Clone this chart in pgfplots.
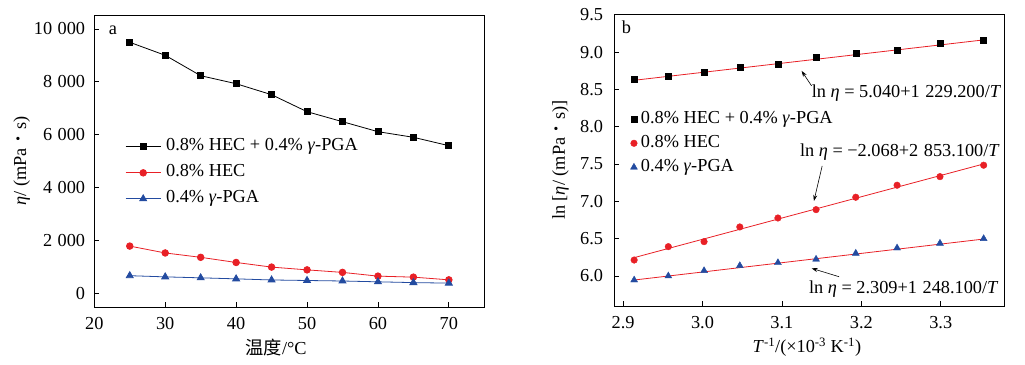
\documentclass[border=0pt]{standalone}
\usepackage{fontspec}
\setmainfont{Liberation Serif}
\newfontfamily\cjk{Noto Sans CJK SC}
\usepackage{pgfplots}
\pgfplotsset{compat=1.18}
\usetikzlibrary{arrows.meta}
\definecolor{myred}{RGB}{232,32,38}
\definecolor{myblue}{RGB}{35,75,160}
\newcommand{\mdot}{\raisebox{-0.05em}{\scalebox{1.5}{·}}}

\pgfplotsset{
  every axis/.append style={font=\fontsize{18.3}{21}\selectfont},
  myaxis/.style={
    scale only axis, width=390pt, height=292pt, anchor=south west,
    axis line style={line width=0.9pt},
    every tick/.style={line width=0.8pt, black},
    major tick length=5pt,
    xtick pos=left, ytick pos=left, tick align=inside,
    ticklabel style={inner sep=0pt},
    xticklabel style={yshift=-10pt},
    /pgf/number format/assume math mode=true,
    legend cell align=left,
  },
}

\begin{document}
\begin{tikzpicture}[font=\fontsize{18.3}{21}\selectfont]
\useasboundingbox (0,0) rectangle (1025pt,364pt);

% ---------- panel a ----------
\begin{axis}[myaxis,
  at={(94.3pt,57pt)},
  xmin=20, xmax=75, ymin=-520, ymax=10530,
  xtick={20,30,40,50,60,70},
  ytick={0,2000,4000,6000,8000,10000},
  scaled y ticks=false,
  yticklabel style={xshift=-9pt},
  /pgf/number format/1000 sep={\hspace{0.3em}},
  xlabel={{\cjk 温度}/°C},
  xlabel style={at={(axis description cs:0.466,-0.137)}, anchor=center},
  ylabel={\textit{η}/ (mPa \mdot{} s)},
  ylabel style={at={(axis description cs:-0.186,0.5)}, anchor=center},
  legend style={at={(axis description cs:0.079,0.580)}, anchor=north west,
    draw=none, fill=none, inner sep=0pt, row sep=8pt, column sep=5pt,
    nodes={inner sep=0pt, text height=13pt, text depth=5pt}},
  legend image code/.code={\draw[mark repeat=2,mark phase=2,#1] plot coordinates {(0pt,0pt)(17.5pt,0pt)(35pt,0pt)};},
]
\addplot[black, line width=0.8pt, mark=square*, mark size=3pt, mark options={solid}] coordinates {
(25,9497)(30,9005)(35,8233)(40,7930)(45,7514)(50,6871)(55,6493)(60,6115)(65,5902)(70,5585)};
\addlegendentry{0.8\% HEC + 0.4\% \textit{γ}-PGA}
\addplot[myred, line width=0.8pt, mark=*, mark size=3.3pt, mark options={solid}] coordinates {
(25,1785)(30,1525)(35,1360)(40,1165)(45,990)(50,885)(55,790)(60,648)(65,610)(70,508)};
\addlegendentry{0.8\% HEC}
\addplot[myblue, line width=0.8pt, mark=triangle*, mark size=4pt, mark options={solid}] coordinates {
(25,665)(30,620)(35,584)(40,545)(45,503)(50,483)(55,464)(60,433)(65,403)(70,384)};
\addlegendentry{0.4\% \textit{γ}-PGA}
\node at (rel axis cs:0.048,0.949) {a};
\end{axis}

% ---------- panel b ----------
\begin{axis}[myaxis,
  at={(614.3pt,58pt)},
  xmin=2.889, xmax=3.380, ymin=5.598, ymax=9.51,
  xtick={2.9,3.0,3.1,3.2,3.3},
  ytick={6.0,6.5,7.0,7.5,8.0,8.5,9.0,9.5},
  yticklabel style={xshift=-11pt},
  /pgf/number format/.cd, fixed, fixed zerofill, precision=1, /pgfplots/.cd,
  xlabel={\textit{T}\textsuperscript{-1}/(×10\textsuperscript{-3} K\textsuperscript{-1})},
  xlabel style={at={(axis description cs:0.494,-0.142)}, anchor=center},
  ylabel={ln [\textit{η}/ (mPa \mdot{} s)]},
  ylabel style={at={(axis description cs:-0.138,0.5)}, anchor=center},
  legend style={at={(axis description cs:0.041,0.671)}, anchor=north west,
    draw=none, fill=none, inner sep=0pt, row sep=6pt, column sep=3.5pt,
    nodes={inner sep=0pt, text height=13pt, text depth=5pt}},
  legend image code/.code={\draw[#1] plot coordinates {(0pt,0pt)};},
]
\addplot[only marks, black, mark=square*, mark size=3pt] coordinates {
(2.914,8.637)(2.957,8.681)(3.002,8.725)(3.047,8.792)(3.095,8.838)(3.143,8.932)(3.193,8.985)(3.245,9.025)(3.299,9.114)(3.354,9.164)};
\addlegendentry{0.8\% HEC + 0.4\% \textit{γ}-PGA}
\addplot[only marks, myred, mark=*, mark size=3.3pt] coordinates {
(2.914,6.214)(2.957,6.393)(3.002,6.460)(3.047,6.657)(3.095,6.777)(3.143,6.889)(3.193,7.055)(3.245,7.216)(3.299,7.331)(3.354,7.484)};
\addlegendentry{0.8\% HEC}
\addplot[only marks, myblue, mark=triangle*, mark size=4pt] coordinates {
(2.914,5.946)(2.957,6.000)(3.002,6.071)(3.047,6.138)(3.095,6.178)(3.143,6.224)(3.193,6.304)(3.245,6.375)(3.299,6.438)(3.354,6.500)};
\addlegendentry{0.4\% \textit{γ}-PGA}
\addplot[myred, line width=0.8pt, forget plot] coordinates {(2.914,8.622)(3.354,9.163)};
\addplot[myred, line width=0.8pt, forget plot] coordinates {(2.914,6.246)(3.354,7.501)};
\addplot[myred, line width=0.8pt, forget plot] coordinates {(2.914,5.946)(3.354,6.495)};
\node at (rel axis cs:0.031,0.954) {b};
\node[anchor=base west, inner sep=0pt] at (axis cs:3.1374,8.395) {ln \textit{η} = 5.040+1\hspace{0.3em}229.200/\textit{T}};
\node[anchor=base west, inner sep=0pt] at (axis cs:3.1226,7.599) {ln \textit{η} = −2.068+2\hspace{0.3em}853.100/\textit{T}};
\node[anchor=base west, inner sep=0pt] at (axis cs:3.134,5.768) {ln \textit{η} = 2.309+1\hspace{0.3em}248.100/\textit{T}};
\draw[-{Stealth[length=6pt,width=4pt]}, line width=0.6pt] (axis cs:3.1374,8.547) -- (axis cs:3.1248,8.748);
\draw[-{Stealth[length=6pt,width=4pt]}, line width=0.6pt] (axis cs:3.1507,7.474) -- (axis cs:3.1403,7.005);
\draw[-{Stealth[length=6pt,width=4pt]}, line width=0.6pt] (axis cs:3.172,5.99) -- (axis cs:3.1374,6.103);
\end{axis}
\end{tikzpicture}
\end{document}
